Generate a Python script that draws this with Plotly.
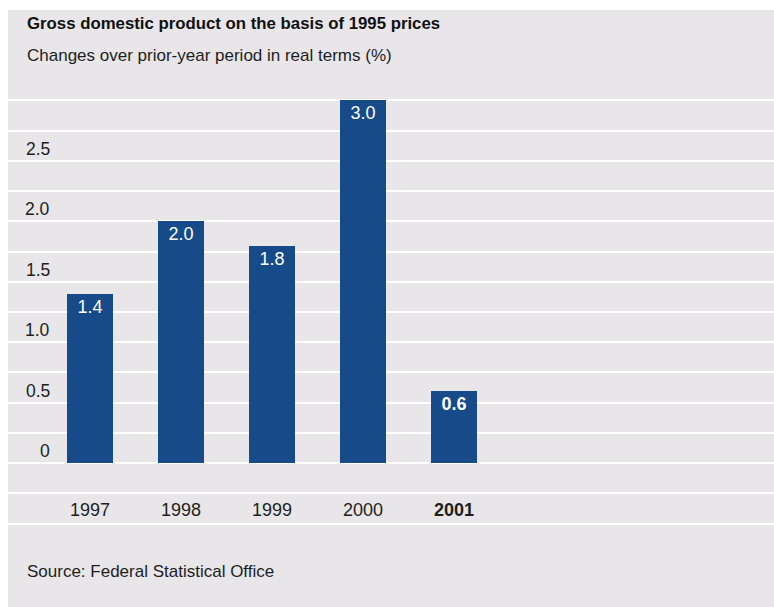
import plotly.graph_objects as go

years = ["1997", "1998", "1999", "2000", "2001"]
growth = [1.4, 2.0, 1.8, 3.0, 0.6]
bar_labels = ["1.4", "2.0", "1.8", "3.0", "<b>0.6</b>"]
year_labels = ["1997", "1998", "1999", "2000", "<b>2001</b>"]
ytick_vals = [0, 0.5, 1.0, 1.5, 2.0, 2.5]
ytick_text = ["0", "0.5", "1.0", "1.5", "2.0", "2.5"]

title = "<b>Gross domestic product on the basis of 1995 prices</b>"
subtitle = "Changes over prior-year period in real terms (%)"
source = "Source: Federal Statistical Office"

FONT = "Liberation Sans"
BG = "#e8e6e9"
BAR = "#164a89"
TXT = "#1e1e1e"

W, H = 774, 607
ML, MR, MT, MB = 8, 0, 98, 81

fig = go.Figure()
fig.add_trace(go.Bar(
    x=list(range(len(years))), y=growth,
    width=0.505,
    marker=dict(color=BAR, line=dict(width=0)),
    text=bar_labels, textposition="inside", insidetextanchor="end",
    textangle=0,
    textfont=dict(family=FONT, size=18, color="white"),
    constraintext="none",
    cliponaxis=False,
    hoverinfo="skip",
))

# y tick labels (placed in band above their gridline)
for v, t in zip(ytick_vals, ytick_text):
    fig.add_annotation(x=(52 - ML) / (W - ML - MR), xref="paper", xanchor="right",
                       y=v + 0.1, yref="y", yanchor="middle",
                       text=t, showarrow=False,
                       font=dict(family=FONT, size=17.5, color=TXT))

# x category labels
for i, t in enumerate(year_labels):
    fig.add_annotation(x=i, xref="x", y=-0.39, yref="y", yanchor="middle",
                       text=t, showarrow=False,
                       font=dict(family=FONT, size=18, color=TXT))

plot_h = H - MT - MB
def py(px):
    return (H - MB - px) / plot_h
def px_(x):
    return (x - ML) / (W - ML - MR)

fig.add_annotation(x=px_(25), xref="paper", xanchor="left", y=py(24), yref="paper", yanchor="middle",
                   text=title, showarrow=False, font=dict(family=FONT, size=16.8, color="#111"))
fig.add_annotation(x=px_(25), xref="paper", xanchor="left", y=py(55), yref="paper", yanchor="middle",
                   text=subtitle, showarrow=False, font=dict(family=FONT, size=17, color=TXT))
fig.add_annotation(x=px_(25), xref="paper", xanchor="left", y=py(571), yref="paper", yanchor="middle",
                   text=source, showarrow=False, font=dict(family=FONT, size=17, color=TXT))

# grey panel
fig.add_shape(type="rect", xref="paper", yref="paper",
              x0=px_(8), x1=px_(774), y0=py(607), y1=py(10),
              fillcolor=BG, line=dict(width=0), layer="below")

fig.update_layout(
    width=W, height=H,
    margin=dict(l=ML, r=MR, t=MT, b=MB, pad=0),
    paper_bgcolor="white", plot_bgcolor="rgba(0,0,0,0)",
    showlegend=False, bargap=0,
    font=dict(family=FONT, color=TXT),
    xaxis=dict(range=[-0.901, 7.516], showticklabels=False, showgrid=False,
               zeroline=False, showline=False, ticks=""),
    yaxis=dict(range=[-0.52, 3.02], dtick=0.25, tick0=0, showticklabels=False,
               showgrid=True, gridcolor="white", gridwidth=1.6,
               zeroline=False, showline=False, ticks=""),
)

fig.write_html("out.html")
